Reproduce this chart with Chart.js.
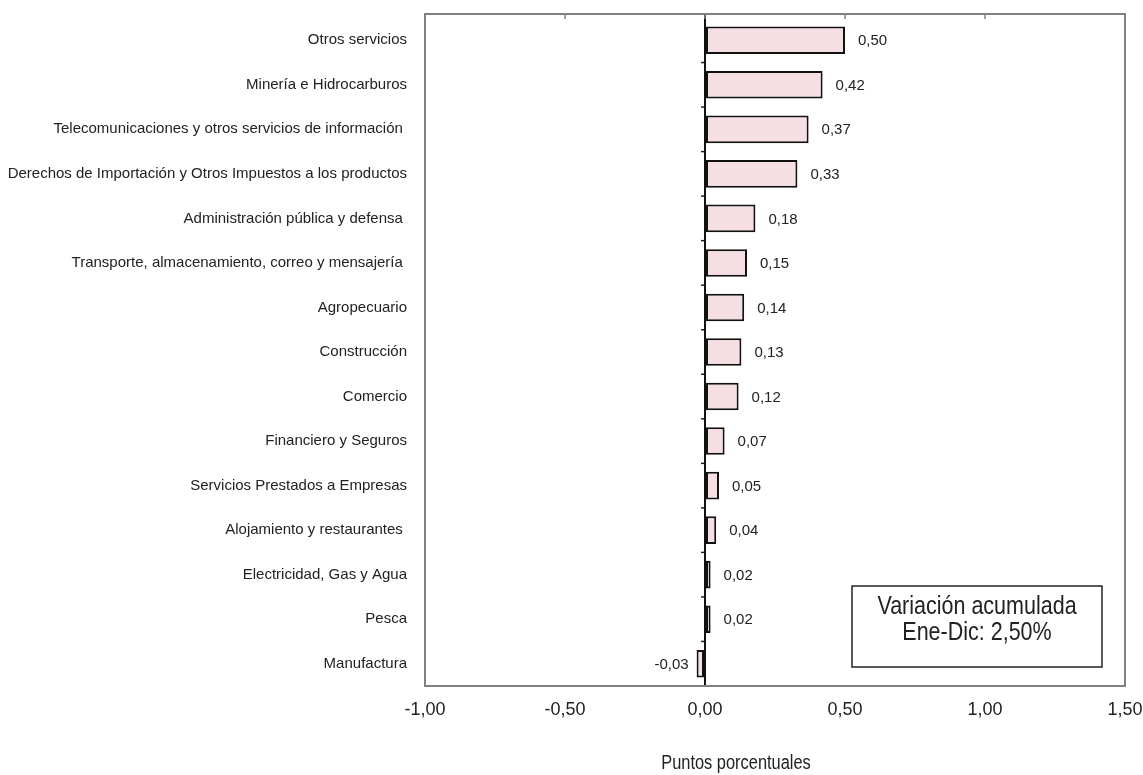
<!DOCTYPE html>
<html>
<head>
<meta charset="utf-8">
<script src="https://cdn.jsdelivr.net/npm/chart.js@4/dist/chart.umd.min.js"></script>
<style>
  html, body { margin: 0; padding: 0; background: #ffffff; }
  #wrap { width: 1143px; height: 775px; }
</style>
</head>
<body>
<div id="wrap"><canvas id="c" width="1143" height="775"></canvas></div>
<script>
// Sector contributions (percentage points), top to bottom
const categories = [
  'Otros servicios',
  'Minería e Hidrocarburos',
  'Telecomunicaciones y otros servicios de información ',
  'Derechos de Importación y Otros Impuestos a los productos',
  'Administración pública y defensa ',
  'Transporte, almacenamiento, correo y mensajería ',
  'Agropecuario',
  'Construcción',
  'Comercio',
  'Financiero y Seguros',
  'Servicios Prestados a Empresas',
  'Alojamiento y restaurantes ',
  'Electricidad, Gas y Agua',
  'Pesca',
  'Manufactura'
];
const values = [0.50, 0.42, 0.37, 0.33, 0.18, 0.15, 0.14, 0.13, 0.12, 0.07, 0.05, 0.04, 0.02, 0.02, -0.03];
const xTickValues = [-1.0, -0.5, 0.0, 0.5, 1.0, 1.5];
const axisTitle = 'Puntos porcentuales';
const noteLines = ['Variación acumulada', 'Ene-Dic: 2,50%'];

const FONT = '"Liberation Sans", Arial, sans-serif';
const FRAME_GAP = 4; // frame top sits slightly above the first category band
const fmt = v => v.toFixed(2).replace('.', ',');

// Draws condensed text: a taller font squeezed horizontally
function narrowText(ctx, text, x, y, size, squeeze, align) {
  ctx.save();
  ctx.translate(x, y);
  ctx.scale(squeeze, 1);
  ctx.font = size + 'px ' + FONT;
  ctx.textAlign = align;
  ctx.textBaseline = 'middle';
  ctx.fillText(text, 0, 0);
  ctx.restore();
}

// Plot frame, zero-axis ticks and top ticks
const framePlugin = {
  id: 'frame',
  afterDraw(chart) {
    const { ctx, chartArea: a, scales } = chart;
    const xs = scales.x;
    const top = a.top - FRAME_GAP;
    const x0 = xs.getPixelForValue(0);
    ctx.save();
    // zero line reaches up to the frame
    ctx.strokeStyle = '#111';
    ctx.lineWidth = 2;
    ctx.beginPath();
    ctx.moveTo(x0, top);
    ctx.lineTo(x0, a.top + 1);
    ctx.stroke();
    ctx.strokeStyle = '#808080';
    ctx.lineWidth = 2;
    ctx.strokeRect(a.left, top, a.right - a.left, a.bottom - top);
    // small ticks along the top edge
    ctx.lineWidth = 1.5;
    xTickValues.forEach(v => {
      const px = xs.getPixelForValue(v);
      ctx.beginPath();
      ctx.moveTo(px, top);
      ctx.lineTo(px, top + 5);
      ctx.stroke();
    });
    // category separators on the zero axis
    ctx.strokeStyle = '#222';
    const step = (a.bottom - a.top) / categories.length;
    for (let i = 1; i < categories.length; i++) {
      const py = a.top + i * step;
      ctx.beginPath();
      ctx.moveTo(x0 - 4, py);
      ctx.lineTo(x0, py);
      ctx.stroke();
    }
    // axis title below the tick labels
    ctx.fillStyle = '#222';
    narrowText(ctx, axisTitle, 736, 763, 20, 0.82, 'center');
    ctx.restore();
  }
};

// Value labels beside each bar
const valueLabels = {
  id: 'valueLabels',
  afterDatasetsDraw(chart) {
    const { ctx } = chart;
    const meta = chart.getDatasetMeta(0);
    ctx.save();
    ctx.font = '15px ' + FONT;
    ctx.fillStyle = '#222';
    ctx.textBaseline = 'middle';
    meta.data.forEach((bar, i) => {
      const v = values[i];
      if (v >= 0) {
        ctx.textAlign = 'left';
        ctx.fillText(fmt(v), bar.x + 13, bar.y + 1);
      } else {
        ctx.textAlign = 'right';
        ctx.fillText(fmt(v), bar.x - 8, bar.y + 1);
      }
    });
    ctx.restore();
  }
};

// Boxed note in the lower right of the plot
const notePlugin = {
  id: 'note',
  afterDraw(chart) {
    const { ctx, chartArea: a } = chart;
    const left = a.right - 273, top = a.bottom - 100, w = 250, h = 81;
    ctx.save();
    ctx.fillStyle = '#fff';
    ctx.fillRect(left, top, w, h);
    ctx.strokeStyle = '#222';
    ctx.lineWidth = 1.5;
    ctx.strokeRect(left, top, w, h);
    ctx.fillStyle = '#222';
    narrowText(ctx, noteLines[0], left + w / 2, top + 21, 25, 0.86, 'center');
    narrowText(ctx, noteLines[1], left + w / 2, top + 47, 25, 0.86, 'center');
    ctx.restore();
  }
};

new Chart(document.getElementById('c'), {
  type: 'bar',
  data: {
    labels: categories,
    datasets: [{
      data: values,
      backgroundColor: '#f6dfe2',
      borderColor: '#111',
      borderWidth: 2,
      borderSkipped: false,
      categoryPercentage: 1.0,
      barPercentage: 0.62
    }]
  },
  options: {
    indexAxis: 'y',
    responsive: false,
    animation: false,
    layout: { padding: { top: 14 + FRAME_GAP, right: 18, left: 0, bottom: 0 } },
    plugins: { legend: { display: false }, tooltip: { enabled: false } },
    scales: {
      x: {
        type: 'linear',
        position: 'bottom',
        min: -1,
        max: 1.5,
        afterBuildTicks: s => { s.ticks = xTickValues.map(v => ({ value: v })); },
        afterFit: s => { s.height = 89; s.paddingLeft = 0; s.paddingRight = 0; },
        ticks: {
          callback: v => fmt(v),
          font: { family: FONT, size: 18 },
          color: '#222',
          padding: 13,
          maxRotation: 0
        },
        grid: {
          drawTicks: false,
          color: c => (c.tick && c.tick.value === 0 ? '#111' : 'rgba(0,0,0,0)'),
          lineWidth: 2
        },
        border: { display: false }
      },
      y: {
        type: 'category',
        afterFit: s => { s.width = 425; s.paddingTop = 0; s.paddingBottom = 0; },
        ticks: {
          font: { family: FONT, size: 15 },
          color: '#222',
          padding: 18,
          autoSkip: false
        },
        grid: { display: false, drawTicks: false },
        border: { display: false }
      }
    }
  },
  plugins: [framePlugin, valueLabels, notePlugin]
});
</script>
</body>
</html>
